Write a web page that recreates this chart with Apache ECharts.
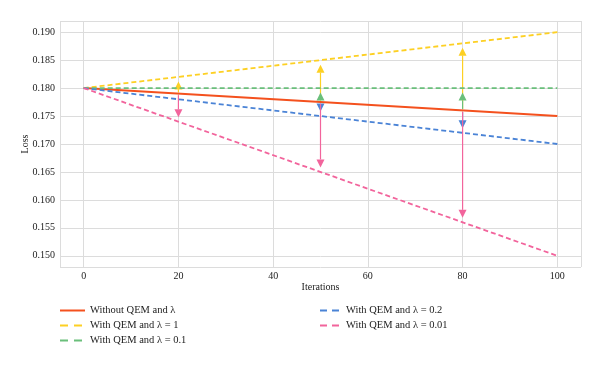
<!DOCTYPE html>
<html>
<head>
<meta charset="utf-8">
<script src="https://cdn.jsdelivr.net/npm/echarts@6/dist/echarts.min.js"></script>
<style>html,body{margin:0;padding:0;background:#fff}#c{width:600px;height:365px}</style>
</head>
<body>
<div id="c"></div>
<script>
// ---- Data ----
const iterations = [0, 100];
const withoutQEM = [0.180, 0.175];
const qemL1 = [0.180, 0.190];
const qemL01 = [0.180, 0.180];
const qemL02 = [0.180, 0.170];
const qemL001 = [0.180, 0.150];

const seriesNames = ['Without QEM and λ', 'With QEM and λ = 1', 'With QEM and λ = 0.1', 'With QEM and λ = 0.2', 'With QEM and λ = 0.01'];

// arrows (comparison at selected iterations)
const arrowX = [20, 50, 80];
const arrowBase = [0.179, 0.1775, 0.176];
const arrowL1 = [0.182, 0.185, 0.188];
const arrowL01 = [0.180, 0.180, 0.180];
const arrowL02 = [0.178, 0.175, 0.172];
const arrowL001 = [0.174, 0.165, 0.156];

const xTicks = [0, 20, 40, 60, 80, 100];
const yTicks = [0.150, 0.155, 0.160, 0.165, 0.170, 0.175, 0.180, 0.185, 0.190];

// ---- Styles ----
const colors = ['#f4511e', '#fdd023', '#6abf7b', '#4a83d6', '#f2649c'];
const FONT = 'Liberation Serif';

function lineSeries(name, ys, color, dashed) {
  return {
    name: name, type: 'line', showSymbol: false, symbol: 'none',
    data: iterations.map((x, i) => [x, ys[i]]),
    lineStyle: { color: color, width: dashed ? 1.8 : 2, type: dashed ? [5, 3] : 'solid' },
    itemStyle: { color: color },
    z: 3
  };
}

function arrowSeries(targets, color, z) {
  return {
    type: 'custom', name: 'arrow' + z, silent: true, z: z,
    data: arrowX.map((x, i) => [x, arrowBase[i], targets[i]]),
    encode: { x: 0, y: [1, 2] },
    renderItem: function (params, api) {
      const p0 = api.coord([api.value(0), api.value(1)]);
      const p1 = api.coord([api.value(0), api.value(2)]);
      const dir = p1[1] < p0[1] ? -1 : 1;
      const startY = p0[1] + dir * 1.5;
      const tipY = p1[1] - dir * 4.5;
      if ((tipY - startY) * dir <= 1) return null;
      const headL = Math.min(8, Math.abs(tipY - startY));
      const baseY = tipY - dir * headL;
      const x = p0[0];
      return {
        type: 'group', children: [
          { type: 'line', shape: { x1: x, y1: startY, x2: x, y2: baseY }, style: { stroke: color, lineWidth: 1.2 } },
          { type: 'polygon', shape: { points: [[x, tipY], [x - 4, baseY], [x + 4, baseY]] }, style: { fill: color } }
        ]
      };
    }
  };
}

const dashLegend = { type: [8, 6] };
const chart = echarts.init(document.getElementById('c'), null, { renderer: 'canvas' });
const legendText = { fontFamily: FONT, fontSize: 10.5, color: '#222' };
chart.setOption({
  animation: false,
  grid: { left: 60, right: 19, top: 21, bottom: 98 },
  xAxis: {
    type: 'value', min: -5, max: 105, splitNumber: 5, minInterval: 20, maxInterval: 20,
    name: 'Iterations', nameLocation: 'middle', nameGap: 15, nameMoveOverlap: false,
    nameTextStyle: { fontFamily: FONT, fontSize: 10, color: '#222' },
    axisLine: { show: false }, axisTick: { show: false },
    axisLabel: { showMinLabel: false, showMaxLabel: false, margin: 4, fontFamily: FONT, fontSize: 10, color: '#222',
      formatter: v => xTicks.indexOf(v) >= 0 ? String(v) : '' },
    splitLine: { show: true, lineStyle: { color: '#dcdcdc', width: 1 } }
  },
  yAxis: {
    type: 'value', min: 0.148, max: 0.192, splitNumber: 9, minInterval: 0.005, maxInterval: 0.005,
    name: 'Loss', nameLocation: 'middle', nameGap: 30, nameRotate: 90, nameMoveOverlap: false,
    nameTextStyle: { fontFamily: FONT, fontSize: 10, color: '#222' },
    axisLine: { show: false }, axisTick: { show: false },
    axisLabel: { showMinLabel: false, showMaxLabel: false, margin: 5, fontFamily: FONT, fontSize: 10, color: '#222',
      formatter: v => { const s = v.toFixed(3); return yTicks.some(t => Math.abs(t - v) < 1e-6) ? s : ''; } },
    splitLine: { show: true, lineStyle: { color: '#dcdcdc', width: 1 } }
  },
  legend: [
    { data: [
        { name: seriesNames[0] },
        { name: seriesNames[1], lineStyle: dashLegend },
        { name: seriesNames[2], lineStyle: dashLegend }
      ],
      orient: 'vertical', left: 59, top: 305, padding: 0, itemWidth: 25, itemHeight: 10, itemGap: 4,
      itemStyle: { opacity: 0 },
      textStyle: legendText },
    { data: [
        { name: seriesNames[3], lineStyle: { type: [7, 5] } },
        { name: seriesNames[4], lineStyle: { type: [7, 5] } }
      ],
      orient: 'vertical', left: 319, top: 305, padding: 0, itemWidth: 21, itemHeight: 10, itemGap: 4,
      itemStyle: { opacity: 0 },
      textStyle: legendText }
  ],
  series: [
    arrowSeries(arrowL1, colors[1], 1),
    arrowSeries(arrowL01, colors[2], 2),
    arrowSeries(arrowL02, colors[3], 2),
    arrowSeries(arrowL001, colors[4], 2),
    lineSeries(seriesNames[0], withoutQEM, colors[0], false),
    lineSeries(seriesNames[1], qemL1, colors[1], true),
    lineSeries(seriesNames[2], qemL01, colors[2], true),
    lineSeries(seriesNames[3], qemL02, colors[3], true),
    lineSeries(seriesNames[4], qemL001, colors[4], true)
  ]
});
</script>
</body>
</html>
